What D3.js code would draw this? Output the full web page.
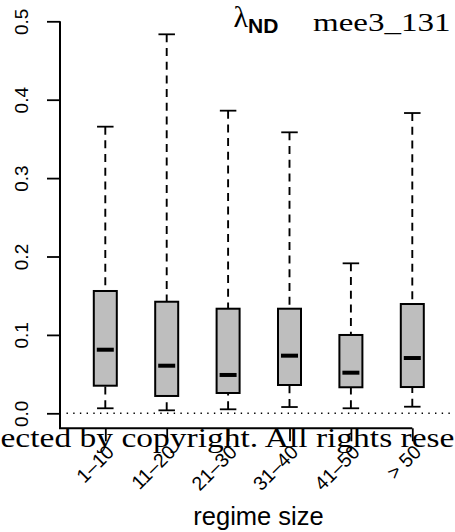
<!DOCTYPE html>
<html>
<head>
<meta charset="utf-8">
<script src="https://cdn.jsdelivr.net/npm/d3@7"></script>
<style>
  html, body { margin: 0; padding: 0; background: #fff; }
  svg { display: block; }
</style>
</head>
<body>
<svg id="chart" width="455" height="532"></svg>
<script>
// Regime-size classes and the five-number summaries of λND for each
const categories = ["1\u201310", "11\u201320", "21\u201330", "31\u201340", "41\u201350", "> 50"];
const lowerWhisker = [0.0064, 0.0038, 0.0051, 0.0080, 0.0064, 0.0084];
const lowerQuartile = [0.0352, 0.0221, 0.0259, 0.0361, 0.0332, 0.0335];
const medians = [0.0811, 0.0607, 0.0489, 0.0735, 0.0518, 0.0705];
const upperQuartile = [0.1560, 0.1423, 0.1334, 0.1334, 0.0999, 0.1394];
const upperWhisker = [0.3656, 0.4834, 0.3860, 0.3584, 0.1913, 0.3830];
const yTicks = [0, 0.1, 0.2, 0.3, 0.4, 0.5];
const xTitle = "regime size";
const fileTag = "mee3_131";
const notice = "ected by copyright. All rights rese";

const boxes = categories.map((c, i) => ({
  cat: c,
  lo: lowerWhisker[i],
  q1: lowerQuartile[i],
  med: medians[i],
  q3: upperQuartile[i],
  hi: upperWhisker[i]
}));

const svg = d3.select("#chart");
const sans = "'Liberation Sans', Arial, sans-serif";
const serif = "'Liberation Serif', 'Times New Roman', serif";

const frameLeft = 60, frameBottom = 428.3;

const y = d3.scaleLinear().domain([0, 0.5]).range([413.3, 21.3]);
const x = d3.scalePoint().domain(categories).range([105.3, 412.3]);

const boxW = 23, capW = 16.5, medW = 17;

// reference line at zero
svg.append("line")
  .attr("x1", 66.5).attr("x2", 455)
  .attr("y1", y(0)).attr("y2", y(0))
  .attr("stroke", "#000").attr("stroke-width", 1.4)
  .attr("stroke-dasharray", "1.4,5.3");

const g = svg.append("g").selectAll("g.box").data(boxes).join("g")
  .attr("class", "box")
  .attr("transform", d => `translate(${x(d.cat)},0)`);

// whiskers (drawn from cap toward the box)
g.append("line")
  .attr("x1", 0).attr("x2", 0)
  .attr("y1", d => y(d.hi)).attr("y2", d => y(d.q3))
  .attr("stroke", "#000").attr("stroke-width", 1.9)
  .attr("stroke-dasharray", "8,5.7");
g.append("line")
  .attr("x1", 0).attr("x2", 0)
  .attr("y1", d => y(d.lo)).attr("y2", d => y(d.q1))
  .attr("stroke", "#000").attr("stroke-width", 1.9)
  .attr("stroke-dasharray", "8,5.7");

// staples
["hi", "lo"].forEach(k => {
  g.append("line")
    .attr("x1", -capW / 2).attr("x2", capW / 2)
    .attr("y1", d => y(d[k])).attr("y2", d => y(d[k]))
    .attr("stroke", "#000").attr("stroke-width", 1.8);
});

// boxes
g.append("rect")
  .attr("x", -boxW / 2)
  .attr("width", boxW)
  .attr("y", d => y(d.q3))
  .attr("height", d => y(d.q1) - y(d.q3))
  .attr("fill", "#bebebe")
  .attr("stroke", "#000").attr("stroke-width", 2);

// medians
g.append("line")
  .attr("x1", -medW / 2).attr("x2", medW / 2)
  .attr("y1", d => y(d.med)).attr("y2", d => y(d.med))
  .attr("stroke", "#000").attr("stroke-width", 4);

// L-shaped frame
svg.append("path")
  .attr("d", `M${frameLeft},${y(0.5)}V${frameBottom}H${x(categories[categories.length - 1])}`)
  .attr("fill", "none").attr("stroke", "#000").attr("stroke-width", 2);

// y axis
const yAxis = svg.append("g")
  .attr("transform", `translate(${frameLeft},0)`)
  .call(d3.axisLeft(y).tickValues(yTicks).tickFormat(d3.format(".1f")).tickSize(13));
yAxis.select(".domain").remove();
yAxis.selectAll(".tick line").attr("stroke", "#000").attr("stroke-width", 1.8);
yAxis.selectAll(".tick text")
  .attr("transform", "rotate(-90)")
  .attr("x", 0).attr("y", -32.5).attr("dy", 0)
  .attr("text-anchor", "middle")
  .attr("fill", "#000")
  .style("font-family", sans).style("font-size", "19px");

// x axis
const xAxis = svg.append("g")
  .attr("transform", `translate(0,${frameBottom})`)
  .call(d3.axisBottom(x).tickSize(13));
xAxis.select(".domain").remove();
xAxis.selectAll(".tick line").attr("stroke", "#000").attr("stroke-width", 1.8);
xAxis.selectAll(".tick text")
  .attr("x", 0).attr("y", 0).attr("dy", 0)
  .attr("transform", "translate(9.5,25) rotate(-45)")
  .attr("text-anchor", "end")
  .attr("fill", "#000")
  .style("font-family", sans).style("font-size", "19.5px");

// axis title
svg.append("text")
  .attr("x", 258.5).attr("y", 525)
  .attr("text-anchor", "middle")
  .style("font-family", sans).style("font-size", "25.5px")
  .text(xTitle);

// panel label λND
const lab = svg.append("text")
  .attr("x", 233.5).attr("y", 27)
  .style("font-family", serif).style("font-size", "30px");
lab.append("tspan").text("\u03bb");
lab.append("tspan")
  .attr("dy", 6)
  .style("font-family", sans).style("font-size", "21px").style("font-weight", "bold")
  .text("ND");

// file tag at the top right
svg.append("text")
  .attr("transform", "translate(313,30.7) scale(1.27,1)")
  .style("font-family", serif).style("font-size", "26px")
  .text(fileTag);

// copyright notice strip
svg.append("text")
  .attr("x", 0.5).attr("y", 446.5)
  .attr("textLength", 454)
  .attr("lengthAdjust", "spacingAndGlyphs")
  .style("font-family", serif).style("font-size", "27px")
  .text(notice);
</script>
</body>
</html>
